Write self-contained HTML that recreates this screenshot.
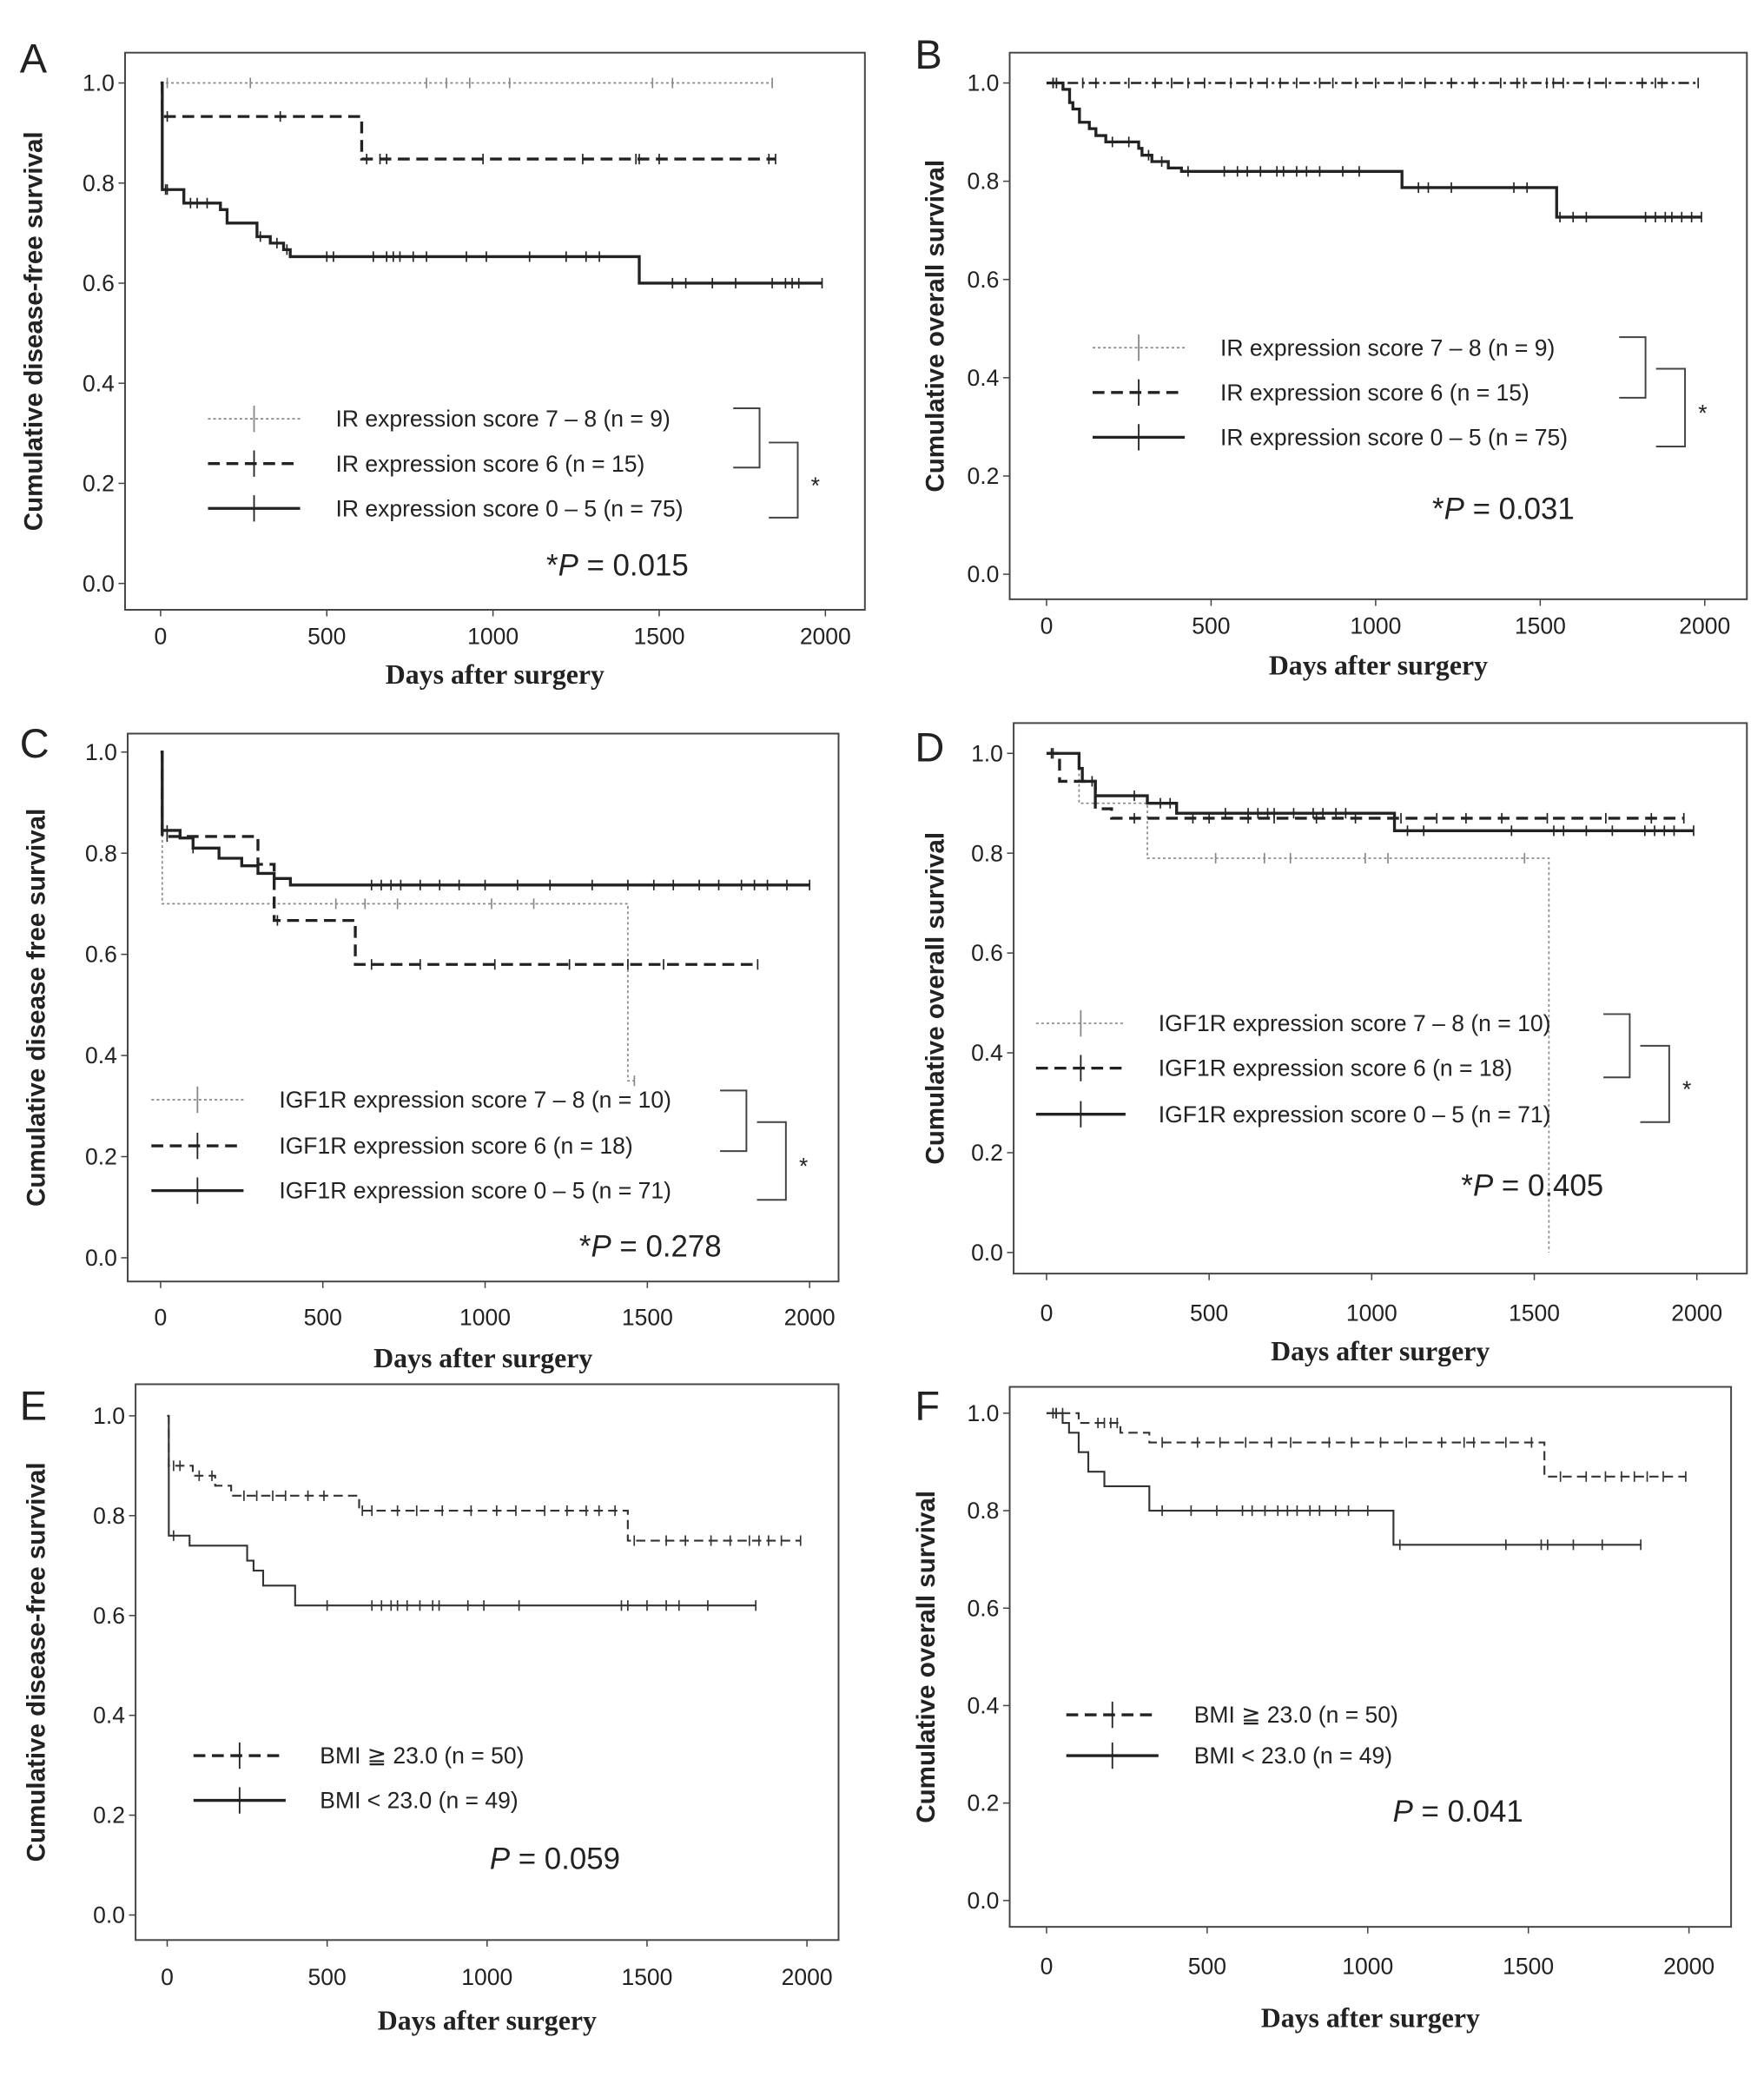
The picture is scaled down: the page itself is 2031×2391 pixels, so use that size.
<!DOCTYPE html>
<html><head><meta charset="utf-8"><style>
html,body{margin:0;padding:0;background:#fff}
svg{display:block}
text{font-family:"Liberation Sans",sans-serif;fill:#222}
.tt{font-family:"Liberation Serif",serif;font-weight:bold;font-size:21px}
.tk{font-size:17.5px}
.lg{font-size:17.5px}
.yt{font-size:19.5px;font-weight:bold}
.pl{font-size:31px}
.pv{font-size:23px}
</style></head><body>
<svg id="fig" width="2031" height="2391" viewBox="0 0 1340 1577" preserveAspectRatio="none" xmlns="http://www.w3.org/2000/svg"></svg>
<script>
// ---- data (days, survival after event) ----
const A_hi_t=[], A_hi_s=[], A_hi_c=[20,270,800,860,930,1050,1480,1540,1840], A_hi_end=1840;
const A_mid_t=[5,605], A_mid_s=[0.933,0.848], A_mid_c=[20,360,620,660,680,970,1270,1430,1440,1500,1830,1850], A_mid_end=1850;
const A_lo_t=[5,70,180,200,290,330,370,390,1440], A_lo_s=[0.787,0.76,0.747,0.72,0.693,0.68,0.667,0.653,0.6], A_lo_c=[15,20,90,110,140,300,350,380,500,520,640,680,700,720,760,800,920,980,1110,1220,1280,1320,1540,1580,1660,1730,1840,1880,1900,1920,1990], A_lo_end=1990;
const B_hi_t=[], B_hi_s=[], B_hi_c=[20,30,110,150,250,330,380,430,480,560,620,670,710,760,830,870,940,1000,1080,1150,1230,1300,1380,1430,1450,1520,1540,1570,1650,1700,1810,1850,1870,1980], B_hi_end=1980;
const B_lo_t=[50,70,80,100,130,150,180,280,290,320,370,410,1080,1550], B_lo_s=[0.987,0.96,0.947,0.92,0.907,0.893,0.88,0.867,0.853,0.84,0.827,0.82,0.787,0.727], B_lo_c=[20,30,200,250,310,350,430,540,580,610,650,700,720,760,790,830,900,950,1130,1160,1230,1420,1460,1560,1600,1640,1820,1850,1880,1900,1930,1960,1990], B_lo_end=1990;
const C_hi_t=[5,1440], C_hi_s=[0.7,0.35], C_hi_c=[540,630,730,1020,1150,1460], C_hi_end=1460;
const C_mid_t=[5,300,350,600], C_mid_s=[0.833,0.778,0.667,0.58], C_mid_c=[20,360,650,800,1030,1260,1440,1550,1840], C_mid_end=1840;
const C_lo_t=[5,60,100,180,250,300,350,400], C_lo_s=[0.845,0.83,0.81,0.79,0.775,0.76,0.75,0.737], C_lo_c=[20,100,650,680,710,740,800,860,920,1000,1100,1200,1330,1440,1520,1580,1660,1720,1790,1830,1870,1930,2000], C_lo_end=2000;
const D_hi_t=[100,310,1545], D_hi_s=[0.9,0.79,0.0], D_hi_c=[520,670,750,980,1050,1470], D_hi_end=1545;
const D_mid_t=[40,150,200], D_mid_s=[0.944,0.889,0.87], D_mid_c=[20,270,450,500,620,700,830,950,1090,1200,1290,1400,1540,1720,1860,1960], D_mid_end=1960;
const D_lo_t=[100,110,150,310,400,1070], D_lo_s=[0.97,0.944,0.915,0.9,0.88,0.845], D_lo_c=[15,140,270,350,380,550,620,650,680,700,760,820,850,890,920,1110,1160,1430,1560,1590,1660,1740,1840,1870,1900,1930,1990], D_lo_end=1990;
const E_hi_t=[5,80,150,200,600,1440], E_hi_s=[0.9,0.88,0.86,0.84,0.81,0.75], E_hi_c=[20,40,100,140,240,280,330,370,440,490,610,640,720,780,860,950,1030,1090,1180,1250,1310,1350,1400,1460,1560,1620,1700,1760,1820,1850,1880,1920,1980], E_hi_end=1980;
const E_lo_t=[5,70,250,270,300,400], E_lo_s=[0.76,0.74,0.71,0.69,0.66,0.62], E_lo_c=[20,500,640,670,700,720,750,790,830,850,940,990,1100,1420,1440,1500,1560,1600,1690,1840], E_lo_end=1840;
const F_hi_t=[100,230,320,1550], F_hi_s=[0.98,0.96,0.94,0.87], F_hi_c=[20,30,50,160,180,200,220,360,470,540,620,700,760,880,950,1040,1120,1230,1300,1330,1430,1510,1600,1680,1740,1790,1830,1870,1920,1990], F_hi_end=1990;
const F_lo_t=[50,70,100,130,180,320,1080], F_lo_s=[0.98,0.96,0.92,0.88,0.85,0.8,0.73], F_lo_c=[20,30,360,450,530,610,640,680,720,750,780,820,850,900,940,1000,1100,1430,1540,1560,1640,1730,1850], F_lo_end=1850;
const yTicks=[0.0,0.2,0.4,0.6,0.8,1.0];
const xTicks=[0,500,1000,1500,2000];

const NS="http://www.w3.org/2000/svg";
const svg=document.getElementById('fig');
function mk(tag,attrs,parent,txt){const e=document.createElementNS(NS,tag);for(const k in attrs)e.setAttribute(k,attrs[k]);if(txt!==undefined)e.textContent=txt;(parent||svg).appendChild(e);return e;}

const panels=[
 {id:'A',box:[95,40,657,463],y1:63,y0:443,x0:122,x2:627,xl:483,xt:513,ytx:25,ytitle:'Cumulative disease-free survival',lx:[158,228],ly:[318,352,386],ltx:255,br:[577,310,355,606,336,393],p:[415,437,'*','0.015'],L:[15,55],
  series:[['hi',A_hi_t,A_hi_s,A_hi_c,A_hi_end,'dot'],['mid',A_mid_t,A_mid_s,A_mid_c,A_mid_end,'dash'],['lo',A_lo_t,A_lo_s,A_lo_c,A_lo_end,'solid']],
  leg:['IR expression score 7 – 8 (n = 9)','IR expression score 6  (n = 15)','IR expression score 0 – 5 (n = 75)'],lstyle:['dot','dash','solid']},
 {id:'B',box:[767,40,1327,455],y1:63,y0:436,x0:795,x2:1295,xl:475,xt:506,ytx:710,ytitle:'Cumulative overall survival',lx:[830,900],ly:[264,298,332],ltx:927,br:[1250,256,302,1280,280,339],p:[1088,394,'*','0.031'],L:[695,52],
  series:[['hi',B_hi_t,B_hi_s,B_hi_c,B_hi_end,'dashdot'],['lo',B_lo_t,B_lo_s,B_lo_c,B_lo_end,'solid']],
  leg:['IR expression score 7 – 8 (n = 9)','IR expression score 6  (n = 15)','IR expression score 0 – 5 (n = 75)'],lstyle:['dot','dash','solid']},
 {id:'C',box:[97,557,637,973],y1:571,y0:955,x0:122,x2:615,xl:1000,xt:1032,ytx:27,ytitle:'Cumulative disease free survival',lx:[115,185],ly:[835,870,904],ltx:212,br:[567,828,874,597,852,911],p:[440,954,'*','0.278'],L:[15,575],
  series:[['hi',C_hi_t,C_hi_s,C_hi_c,C_hi_end,'dot'],['mid',C_mid_t,C_mid_s,C_mid_c,C_mid_end,'dash'],['lo',C_lo_t,C_lo_s,C_lo_c,C_lo_end,'solid']],
  leg:['IGF1R expression score 7 – 8 (n = 10)','IGF1R expression score 6  (n = 18)','IGF1R expression score 0 – 5 (n = 71)'],lstyle:['dot','dash','solid']},
 {id:'D',box:[770,549,1327,967],y1:572,y0:951,x0:795,x2:1289,xl:997,xt:1027,ytx:710,ytitle:'Cumulative overall survival',lx:[787,855],ly:[777,811,846],ltx:880,br:[1238,770,818,1268,794,852],p:[1110,908,'*','0.405'],L:[695,578],
  series:[['hi',D_hi_t,D_hi_s,D_hi_c,D_hi_end,'dot'],['mid',D_mid_t,D_mid_s,D_mid_c,D_mid_end,'dash'],['lo',D_lo_t,D_lo_s,D_lo_c,D_lo_end,'solid']],
  leg:['IGF1R expression score 7 – 8 (n = 10)','IGF1R expression score 6  (n = 18)','IGF1R expression score 0 – 5 (n = 71)'],lstyle:['dot','dash','solid']},
 {id:'E',box:[103,1051,637,1473],y1:1075,y0:1454,x0:127,x2:613,xl:1501,xt:1535,ytx:27,ytitle:'Cumulative disease-free survival',lx:[147,217],ly:[1333,1367],ltx:243,br:null,p:[372,1419,'','0.059'],L:[15,1078],
  series:[['hi',E_hi_t,E_hi_s,E_hi_c,E_hi_end,'dash2'],['lo',E_lo_t,E_lo_s,E_lo_c,E_lo_end,'solid2']],
  leg:['BMI ≧ 23.0 (n = 50)','BMI < 23.0 (n = 49)'],lstyle:['dash','solid']},
 {id:'F',box:[767,1053,1315,1463],y1:1073,y0:1443,x0:795,x2:1283,xl:1493,xt:1533,ytx:703,ytitle:'Cumulative overall survival',lx:[810,880],ly:[1302,1333],ltx:907,br:null,p:[1058,1383,'','0.041'],L:[695,1078],
  series:[['hi',F_hi_t,F_hi_s,F_hi_c,F_hi_end,'dash2'],['lo',F_lo_t,F_lo_s,F_lo_c,F_lo_end,'solid2']],
  leg:['BMI ≧ 23.0 (n = 50)','BMI < 23.0 (n = 49)'],lstyle:['dash','solid']}
];
const styles={dot:{stroke:'#888','stroke-width':1.1,'stroke-dasharray':'2,2'},dash:{stroke:'#222','stroke-width':2.2,'stroke-dasharray':'9,5'},solid:{stroke:'#222','stroke-width':2.2},dashdot:{stroke:'#222','stroke-width':1.6,'stroke-dasharray':'8,3,2,3'},dash2:{stroke:'#333','stroke-width':1.4,'stroke-dasharray':'7,4'},solid2:{stroke:'#333','stroke-width':1.4}};

panels.forEach(P=>{
 const g=mk('g',{});
 
 
 const X=v=>P.x0+(P.x2-P.x0)*v/2000, Y=v=>P.y0+(P.y1-P.y0)*v;
 const lt=mk('text',{x:P.L[0],y:P.L[1],class:'pl'},g,P.id);
 
 const b=P.box;
 const fr=mk('rect',{x:b[0],y:b[1],width:b[2]-b[0],height:b[3]-b[1],fill:'none',stroke:'#444','stroke-width':1.3},g);
 
 yTicks.forEach(v=>{mk('line',{x1:b[0]-5,x2:b[0],y1:Y(v),y2:Y(v),stroke:'#444'},g);
  const t=mk('text',{x:b[0]-8,y:Y(v)+6,'text-anchor':'end',class:'tk'},g,v.toFixed(1));
  });
 xTicks.forEach(v=>{mk('line',{x1:X(v),x2:X(v),y1:b[3],y2:b[3]+5,stroke:'#444'},g);
  const t=mk('text',{x:X(v),y:P.xl+6,'text-anchor':'middle',class:'tk'},g,String(v));
  });
 const xt=mk('text',{x:(b[0]+b[2])/2,y:P.xt+6,'text-anchor':'middle',class:'tt'},g,'Days after surgery');
 
 const cy=(b[1]+b[3])/2;
 const yt=mk('text',{x:P.ytx,y:cy,'text-anchor':'middle',class:'yt',transform:`rotate(-90 ${P.ytx} ${cy})`,dy:7},g,P.ytitle);
 
 P.series.forEach(([nm,ts,ss,cs,end,st])=>{
  let d=`M${X(0)},${Y(1)}`;
  ts.forEach((t,i)=>{d+=` H${X(t)} V${Y(ss[i])}`;});
  d+=` H${X(end)}`;
  const p=mk('path',Object.assign({d:d,fill:'none'},styles[st]),g);
  
  const sv=t=>{let s=1;ts.forEach((tt,i)=>{if(t>=tt)s=ss[i];});return s;};
  cs.forEach(c=>{const y=Y(sv(c));const m=mk('line',{x1:X(c),x2:X(c),y1:y-4,y2:y+4,stroke:styles[st].stroke,'stroke-width':1.1},g);
   });
 });
 P.leg.forEach((lab,i)=>{
  const y=P.ly[i];const st=styles[P.lstyle[i]];
  const ln=mk('line',Object.assign({x1:P.lx[0],x2:P.lx[1],y1:y,y2:y},st),g);
  
  const mx=(P.lx[0]+P.lx[1])/2;
  mk('line',{x1:mx,x2:mx,y1:y-10,y2:y+10,stroke:st.stroke,'stroke-width':1.2},g);
  const t=mk('text',{x:P.ltx,y:y+6,class:'lg'},g,lab);
  
 });
 if(P.br){const r=P.br;
  mk('path',{d:`M${r[0]-20},${r[1]} H${r[0]} V${r[2]} H${r[0]-20}`,fill:'none',stroke:'#444','stroke-width':1.3},g);
  mk('path',{d:`M${r[3]-22},${r[4]} H${r[3]} V${r[5]} H${r[3]-22}`,fill:'none',stroke:'#444','stroke-width':1.3},g);
  const s=mk('text',{x:r[3]+10,y:(r[4]+r[5])/2+10,class:'lg'},g,'*');
  }
 const pt=mk('text',{x:P.p[0],y:P.p[1],class:'pv'},g);
 
 mk('tspan',{},pt,P.p[2]);mk('tspan',{'font-style':'italic'},pt,'P');mk('tspan',{},pt,' = '+P.p[3]);
});
</script>
</body></html>
